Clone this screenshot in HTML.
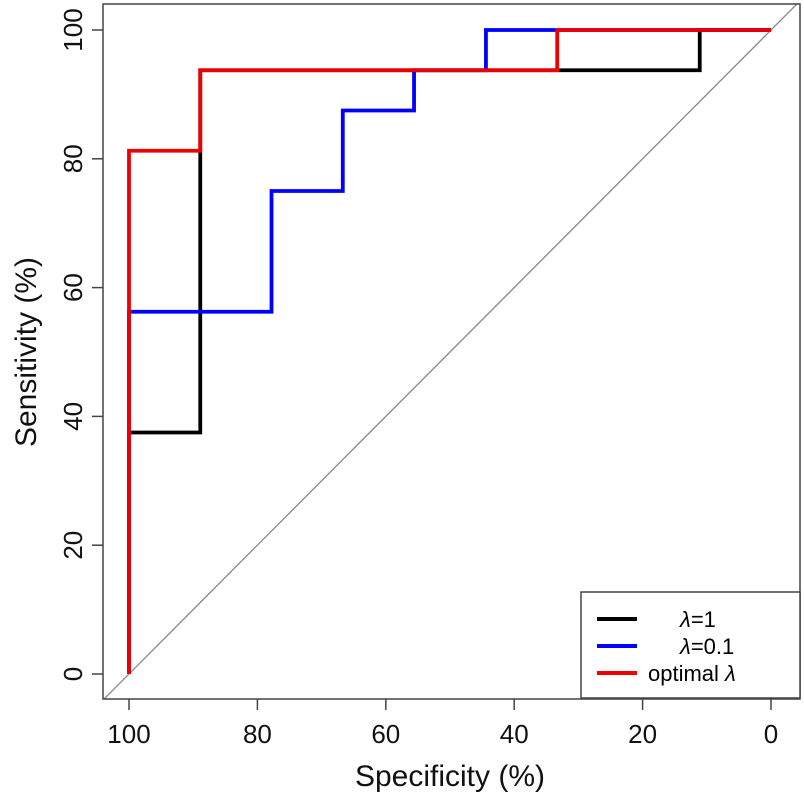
<!DOCTYPE html>
<html><head><meta charset="utf-8"><style>
body{margin:0;background:#fff}
svg{display:block;font-family:"Liberation Sans",sans-serif}
</style></head><body>
<svg id="c" width="804" height="800" viewBox="0 0 804 800">
<defs><clipPath id="clip"><rect x="103" y="4" width="697" height="695"/></clipPath></defs>
<g id="plot" clip-path="url(#clip)"></g>
<rect x="103" y="4" width="697" height="695" fill="none" stroke="#444" stroke-width="1.5"/>
<g id="axes"></g>
<text x="450" y="786" font-size="30" text-anchor="middle" fill="#111">Specificity (%)</text>
<text transform="translate(36,352) rotate(-90)" font-size="30" text-anchor="middle" fill="#111">Sensitivity (%)</text>
<g>
<rect x="581" y="592" width="219" height="106" fill="#fff" stroke="#444" stroke-width="1.5"/>
<line x1="597" y1="619" x2="637" y2="619" stroke="#000" stroke-width="4"/>
<line x1="597" y1="646" x2="637" y2="646" stroke="#00f" stroke-width="4"/>
<line x1="597" y1="673" x2="637" y2="673" stroke="#e00" stroke-width="4"/>
<text x="680" y="627" font-size="22" fill="#000"><tspan font-style="italic">λ</tspan>=1</text>
<text x="680" y="654" font-size="22" fill="#000"><tspan font-style="italic">λ</tspan>=0.1</text>
<text x="648" y="681" font-size="22" fill="#000">optimal <tspan font-style="italic">λ</tspan></text>
</g>
</svg>
<script>
const xTicks=[100,80,60,40,20,0];
const yTicks=[0,20,40,60,80,100];
const blackSpec=[100,100,88.9,88.9,11.1,11.1,0];
const blackSens=[0,37.5,37.5,93.75,93.75,100,100];
const blueSpec=[100,100,77.8,77.8,66.7,66.7,55.6,55.6,44.4,44.4,0];
const blueSens=[0,56.25,56.25,75,75,87.5,87.5,93.75,93.75,100,100];
const redSpec=[100,100,88.9,88.9,33.3,33.3,0];
const redSens=[0,81.25,81.25,93.75,93.75,100,100];
const NS="http://www.w3.org/2000/svg";
const X=v=>771+(129-771)*v/100;
const Y=v=>674+(30-674)*v/100;
function mk(tag,attrs,parent){const e=document.createElementNS(NS,tag);for(const k in attrs)e.setAttribute(k,attrs[k]);parent.appendChild(e);return e;}
const plot=document.getElementById('plot'),axes=document.getElementById('axes');
let d=mk('line',{x1:X(110),y1:Y(-10),x2:X(-10),y2:Y(110),stroke:'#888','stroke-width':1.3},plot);


function series(sx,sy,col,name){
  const p=sx.map((v,i)=>X(v)+','+Y(sy[i])).join(' ');
  const e=mk('polyline',{points:p,fill:'none',stroke:col,'stroke-width':3.8},plot);
  
  
}
series(blackSpec,blackSens,'#000','roc-line-lambda1');
series(blueSpec,blueSens,'#00f','roc-line-lambda01');
series(redSpec,redSens,'#e00','roc-line-optimal');
xTicks.forEach(t=>{
  const l=mk('line',{x1:X(t),y1:699,x2:X(t),y2:710,stroke:'#444','stroke-width':1.5},axes);
  
  
  const tx=mk('text',{x:X(t),y:743,'font-size':26,'text-anchor':'middle',fill:'#111'},axes);
  tx.textContent=t;
  
  
});
yTicks.forEach(t=>{
  const l=mk('line',{x1:92,y1:Y(t),x2:103,y2:Y(t),stroke:'#444','stroke-width':1.5},axes);
  
  
  const tx=mk('text',{transform:`translate(82,${Y(t)}) rotate(-90)`,'font-size':26,'text-anchor':'middle',fill:'#111'},axes);
  tx.textContent=t;
  
  
});
</script>
</body></html>
